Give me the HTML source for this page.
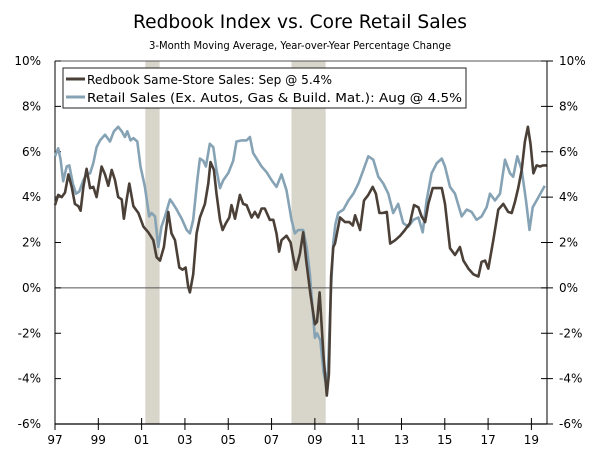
<!DOCTYPE html>
<html><head><meta charset="utf-8"><style>
body{margin:0;background:#fff;}
svg{display:block;font-family:"DejaVu Sans","Liberation Sans",sans-serif;}
</style></head><body>
<svg id="chart" width="600" height="451">
<text x="300" y="28" text-anchor="middle" font-size="19" fill="#000" textLength="334" lengthAdjust="spacingAndGlyphs">Redbook Index vs. Core Retail Sales</text>
<text x="300" y="49" text-anchor="middle" font-size="11" fill="#000" textLength="302" lengthAdjust="spacingAndGlyphs">3-Month Moving Average, Year-over-Year Percentage Change</text>
<g id="bands"></g><g id="axes"></g><g id="series"></g>
<g>
<rect x="63" y="68" width="403" height="40" fill="#fff" stroke="#222" stroke-width="1"/>
<line x1="66" y1="79" x2="85" y2="79" stroke="#4a4038" stroke-width="3"/>
<text x="87" y="84" font-size="12.5" fill="#000" textLength="245" lengthAdjust="spacingAndGlyphs">Redbook Same-Store Sales: Sep @ 5.4%</text>
<line x1="66" y1="97" x2="85" y2="97" stroke="#86a3b5" stroke-width="3"/>
<text x="87" y="102" font-size="12.5" fill="#000" textLength="375" lengthAdjust="spacingAndGlyphs">Retail Sales (Ex. Autos, Gas &amp; Build. Mat.): Aug @ 4.5%</text>
</g>
</svg>
<script>
const yTicks=[10,8,6,4,2,0,-2,-4,-6];
const xTickYears=[1997,1999,2001,2003,2005,2007,2009,2011,2013,2015,2017,2019];
const xTickLabels=["97","99","01","03","05","07","09","11","13","15","17","19"];
const recessions=[[2001.17,2001.83],[2007.92,2009.5]];
const redbookDates=[1997.00,1997.15,1997.31,1997.46,1997.62,1997.77,1997.92,1998.08,1998.18,1998.31,1998.46,1998.62,1998.77,1998.92,1999.15,1999.31,1999.46,1999.62,1999.77,1999.92,2000.08,2000.18,2000.31,2000.43,2000.62,2000.85,2001.08,2001.31,2001.54,2001.69,2001.85,2002.03,2002.23,2002.38,2002.54,2002.74,2002.89,2003.03,2003.15,2003.23,2003.38,2003.54,2003.69,2003.92,2004.08,2004.18,2004.34,2004.46,2004.62,2004.74,2004.89,2005.05,2005.15,2005.31,2005.54,2005.69,2005.85,2006.08,2006.23,2006.38,2006.54,2006.69,2006.92,2007.08,2007.23,2007.35,2007.46,2007.69,2007.88,2008.00,2008.12,2008.31,2008.46,2008.6,2008.8,2009.0,2009.1,2009.22,2009.4,2009.55,2009.65,2009.75,2009.85,2009.93,2010.16,2010.39,2010.59,2010.75,2010.86,2011.09,2011.27,2011.47,2011.67,2011.82,2011.98,2012.13,2012.32,2012.48,2012.71,2012.94,2013.16,2013.39,2013.58,2013.78,2013.93,2014.09,2014.24,2014.44,2014.70,2014.86,2015.01,2015.24,2015.47,2015.70,2015.86,2016.09,2016.32,2016.55,2016.70,2016.86,2017.01,2017.24,2017.47,2017.70,2017.93,2018.09,2018.24,2018.39,2018.55,2018.70,2018.84,2018.96,2019.09,2019.24,2019.40,2019.55,2019.70];
const redbookValues=[3.65,4.1,4.0,4.2,5.0,4.45,3.7,3.6,3.4,4.45,5.25,4.4,4.45,4.0,5.35,5.0,4.5,5.2,4.75,4.0,3.9,3.05,3.9,4.6,3.6,3.3,2.7,2.45,2.1,1.35,1.2,1.8,3.35,2.4,2.1,0.9,0.8,0.9,0.05,-0.2,0.6,2.4,3.1,3.7,4.6,5.55,5.2,4.15,3.0,2.55,2.85,3.1,3.65,3.05,4.1,3.7,3.65,3.1,3.35,3.1,3.5,3.5,3.0,3.0,2.4,1.6,2.1,2.3,2.0,1.35,0.8,1.5,2.45,1.2,-0.3,-1.6,-1.5,-0.2,-3.0,-4.75,-3.8,0.5,1.8,1.95,3.1,2.9,2.9,2.75,3.2,2.55,3.85,4.1,4.45,4.15,3.3,3.3,3.35,1.95,2.1,2.3,2.55,2.85,3.65,3.55,3.15,2.9,3.7,4.4,4.4,4.4,3.7,1.75,1.45,1.8,1.2,0.85,0.6,0.5,1.15,1.2,0.85,2.1,3.45,3.7,3.35,3.3,3.8,4.4,5.2,6.45,7.1,6.35,5.05,5.4,5.35,5.4,5.4];
const retailDates=[1997.00,1997.15,1997.26,1997.38,1997.54,1997.66,1997.82,1997.97,1998.12,1998.31,1998.46,1998.62,1998.77,1998.92,1999.08,1999.31,1999.54,1999.72,1999.92,2000.08,2000.23,2000.34,2000.49,2000.62,2000.80,2000.95,2001.15,2001.35,2001.46,2001.62,2001.77,2001.92,2002.08,2002.31,2002.46,2002.62,2002.85,2003.08,2003.23,2003.38,2003.57,2003.69,2003.85,2003.97,2004.15,2004.31,2004.46,2004.62,2004.77,2005.00,2005.23,2005.38,2005.62,2005.85,2006.00,2006.15,2006.34,2006.54,2006.77,2007.00,2007.23,2007.46,2007.69,2007.92,2008.08,2008.23,2008.46,2008.62,2008.77,2008.9,2009.0,2009.1,2009.25,2009.4,2009.48,2009.6,2009.75,2009.85,2009.95,2010.08,2010.32,2010.55,2010.78,2011.01,2011.24,2011.47,2011.70,2011.93,2012.16,2012.39,2012.62,2012.85,2013.08,2013.32,2013.55,2013.78,2013.98,2014.16,2014.39,2014.63,2014.86,2015.01,2015.24,2015.47,2015.78,2016.01,2016.24,2016.47,2016.70,2016.93,2017.09,2017.32,2017.55,2017.78,2018.01,2018.16,2018.35,2018.55,2018.75,2018.91,2019.06,2019.24,2019.62];
const retailValues=[5.8,6.15,5.65,4.7,5.35,5.4,4.6,4.15,4.25,4.75,5.0,5.05,5.5,6.2,6.5,6.75,6.45,6.9,7.1,6.9,6.65,6.9,6.5,6.6,6.45,5.35,4.45,3.15,3.3,3.15,1.8,2.7,3.15,3.9,3.7,3.45,3.05,2.55,2.4,3.0,4.75,5.7,5.6,5.35,6.35,6.2,5.2,4.4,4.75,5.05,5.6,6.45,6.5,6.5,6.65,5.95,5.65,5.35,5.1,4.75,4.45,5.0,4.3,3.0,2.4,2.55,2.55,1.8,0.6,-1.0,-2.2,-2.0,-2.3,-3.7,-4.1,-3.7,0.0,2.0,2.8,3.3,3.45,3.85,4.15,4.6,5.2,5.8,5.65,4.9,4.6,4.15,3.3,3.7,2.85,2.7,3.0,3.1,2.45,3.85,5.05,5.5,5.7,5.35,4.45,4.15,3.15,3.45,3.35,3.0,3.15,3.55,4.15,3.85,4.15,5.65,5.05,4.9,5.8,5.2,3.85,2.55,3.55,3.85,4.5];

const NS="http://www.w3.org/2000/svg";
const L=55,R=547,T=61,B=424,X0=1997,X1=2019.72;
function sx(y){return L+(y-X0)/(X1-X0)*(R-L);}
function sy(v){return T+(10-v)/16*(B-T);}
function mk(tag,attrs,parent){const e=document.createElementNS(NS,tag);for(const k in attrs)e.setAttribute(k,attrs[k]);parent.appendChild(e);return e;}
const bands=document.getElementById('bands'),axes=document.getElementById('axes'),series=document.getElementById('series');
recessions.forEach(r=>{
  const e=mk('rect',{x:sx(r[0]),y:T,width:sx(r[1])-sx(r[0]),height:B-T,fill:'#d8d5ca'},bands);
  
  
});
let e=mk('line',{x1:L,y1:T,x2:R,y2:T,stroke:'#555','stroke-width':1},axes);


e=mk('line',{x1:L,y1:T,x2:L,y2:B,stroke:'#000','stroke-width':1},axes);


e=mk('line',{x1:R,y1:T,x2:R,y2:B,stroke:'#000','stroke-width':1},axes);


e=mk('line',{x1:L,y1:B,x2:R,y2:B,stroke:'#000','stroke-width':1.2},axes);


e=mk('line',{x1:L,y1:sy(0),x2:R,y2:sy(0),stroke:'#555','stroke-width':1},axes);


yTicks.forEach(v=>{
  const y=sy(v);
  mk('line',{x1:L,y1:y,x2:L+6,y2:y,stroke:'#000'},axes);
  mk('line',{x1:R-6,y1:y,x2:R+6,y2:y,stroke:'#000'},axes);
  let t=mk('text',{x:L-14,y:y+4,'text-anchor':'end','font-size':12,fill:'#000'},axes);
  t.textContent=v+'%';
  
  
  t=mk('text',{x:R+12,y:y+4,'text-anchor':'start','font-size':12,fill:'#000'},axes);
  t.textContent=v+'%';
  
  
});
xTickYears.forEach((yr,i)=>{
  const x=sx(yr);
  mk('line',{x1:x,y1:B-6,x2:x,y2:B+6,stroke:'#000'},axes);
  const t=mk('text',{x:x,y:B+20,'text-anchor':'middle','font-size':12,fill:'#000'},axes);
  t.textContent=xTickLabels[i];
  
  
});
function line(d,v,color,name){
  const p=d.map((x,i)=>(i?'L':'M')+sx(x).toFixed(1)+','+sy(v[i]).toFixed(1)).join('');
  const el=mk('path',{d:p,fill:'none',stroke:color,'stroke-width':2.6,'stroke-linejoin':'round'},series);
  
  
}
line(retailDates,retailValues,'#86a3b5','retail-sales-line');
line(redbookDates,redbookValues,'#4a4038','redbook-line');
</script>
</body></html>
